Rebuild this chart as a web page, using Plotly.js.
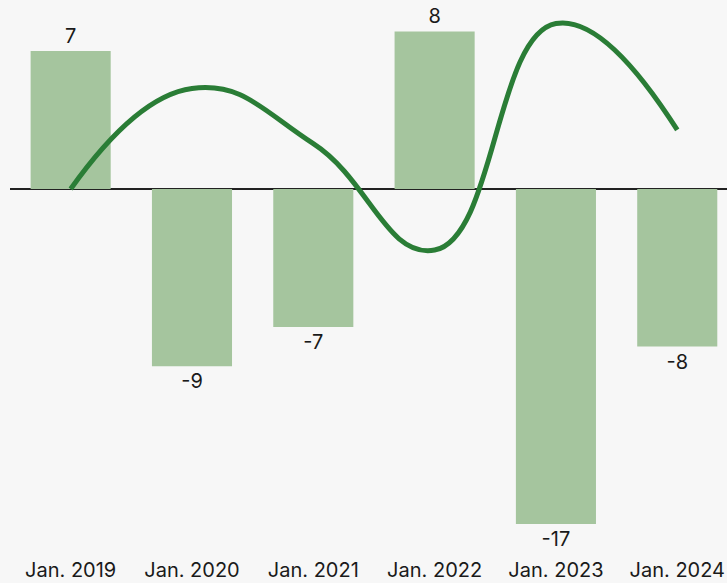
<!DOCTYPE html>
<html>
<head>
<meta charset="utf-8">
<script src="https://cdn.plot.ly/plotly-3.0.1.min.js"></script>
<style>html,body{margin:0;padding:0;background:#f7f7f7;}#chart{width:727px;height:583px;}</style>
</head>
<body>
<div id="chart"></div>
<script>
const categories = ["Jan. 2019", "Jan. 2020", "Jan. 2021", "Jan. 2022", "Jan. 2023", "Jan. 2024"];
const barValues = [7, -9, -7, 8, -17, -8];
const lineValues = [0, 5.1, 2.3, -3.1, 8.4, 3.0];

const bars = {
  type: 'bar', x: categories, y: barValues,
  marker: {color: '#a5c59e'},
  text: barValues.map(String), textposition: 'outside',
  textfont: {family: 'Inter, sans-serif', size: 20, color: '#1a1a1a'},
  cliponaxis: false, hoverinfo: 'skip'
};
const line = {
  type: 'scatter', mode: 'lines', x: categories, y: lineValues,
  line: {color: '#2a7d36', width: 5, shape: 'spline', smoothing: 1.3},
  hoverinfo: 'skip'
};
Plotly.newPlot('chart', [bars, line], {
  width: 727, height: 583,
  margin: {l: 10, r: 0, t: 0, b: 40},
  paper_bgcolor: '#f7f7f7', plot_bgcolor: '#f7f7f7',
  showlegend: false, bargap: 0.34,
  font: {family: 'Inter, sans-serif', size: 20, color: '#1a1a1a'},
  xaxis: {type: 'category', range: [-0.5, 5.41], showgrid: false, showline: false, ticks: '', tickfont: {size: 20}, ticklabelstandoff: 13},
  yaxis: {range: [-17.97, 9.594], showgrid: false, showticklabels: false, zeroline: true, zerolinecolor: '#222', zerolinewidth: 2}
}, {displayModeBar: false, staticPlot: true});
</script>
</body>
</html>
